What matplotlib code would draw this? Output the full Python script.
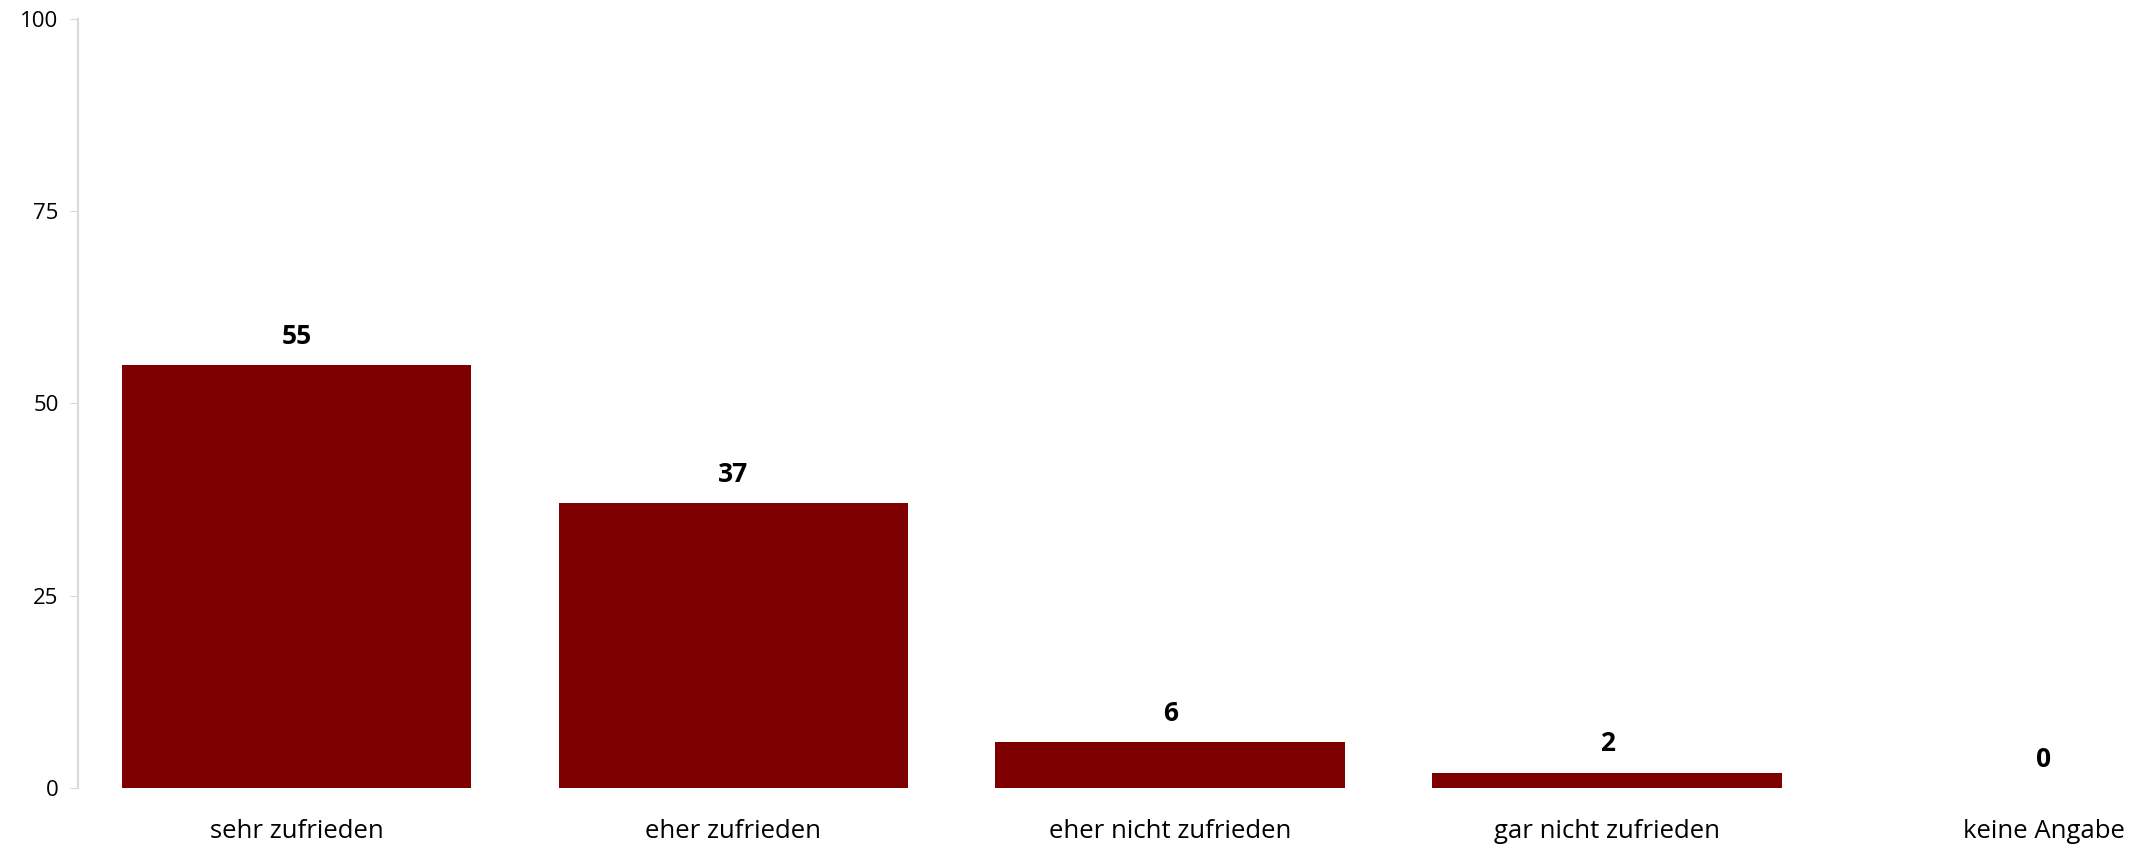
import matplotlib
matplotlib.use("Agg")
import matplotlib.pyplot as plt
import numpy as np

categories = ["sehr zufrieden", "eher zufrieden", "eher nicht zufrieden",
              "gar nicht zufrieden", "keine Angabe"]
values = [55, 37, 6, 2, 0]
yticks = [0, 25, 50, 75, 100]

plt.rcParams['font.family'] = ['Open Sans', 'DejaVu Sans']

fig = plt.figure(figsize=(21.48, 8.47), dpi=100)
# the plot area runs past the right edge, as in the original
ax = fig.add_axes([0.0363, 0.0697, 1.017, 0.908])

x = np.arange(len(categories))
ax.bar(x, values, width=0.8, color="#7f0000")

for xi, v in zip(x, values):
    ax.annotate(str(v), (xi, v), xytext=(0, 11), textcoords="offset points",
                ha="center", va="bottom", fontsize=19, fontweight="bold")

ax.set_xlim(-0.5, len(categories) - 0.5)
ax.set_ylim(0, 100)
ax.set_yticks(yticks)
ax.set_xticks(x)
ax.set_xticklabels(categories, fontsize=18.5)
ax.tick_params(axis="x", length=0, pad=22)
ax.tick_params(axis="y", length=6, color="#d9d9d9", labelsize=16, pad=8)

for s in ["top", "right", "bottom"]:
    ax.spines[s].set_visible(False)
ax.spines["left"].set_color("#d9d9d9")
ax.spines["left"].set_linewidth(1.5)

fig.savefig("out.png", dpi=100)
